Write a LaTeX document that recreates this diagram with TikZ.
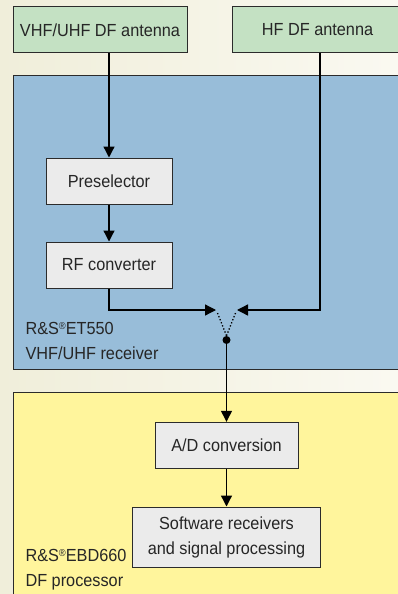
\documentclass[tikz,border=0pt]{standalone}
\usepackage{fontspec}
\setmainfont{Liberation Sans}[FakeStretch=0.93]
\usetikzlibrary{positioning,arrows.meta,shapes}

\definecolor{bgleft}{HTML}{F0EEDA}
\definecolor{bgright}{HTML}{FAF9F1}
\definecolor{antgreen}{HTML}{C4E1C3}
\definecolor{rxblue}{HTML}{98BDD9}
\definecolor{dfyellow}{HTML}{FFF59C}
\definecolor{unitgray}{HTML}{EBEBEB}
\definecolor{framegray}{HTML}{2B2B2B}

\newcommand{\rsreg}{\raisebox{5pt}{\fontsize{10}{10}\selectfont ®}}

\begin{document}
\begin{tikzpicture}[x=1pt, y=-1pt, >={Triangle[length=11pt,width=11pt]},
      every node/.append style={font=\fontsize{17.5}{25}\selectfont, text=black!85},
      antenna/.style={draw=framegray, line width=1pt, fill=antgreen, minimum height=46pt, inner sep=0pt},
      unit/.style={draw=framegray, line width=1pt, fill=unitgray, minimum height=46pt, minimum width=126pt, inner sep=0pt, align=center},
      area/.style={draw=framegray, line width=1pt},
      signal/.style={line width=1.3pt, ->}]
    \useasboundingbox (0,0) rectangle (398,594);
    \clip (0,0) rectangle (398,594);
    \shade[left color=bgleft, right color=bgright] (0,0) rectangle (398,594);

    % receiver and processor areas
    \draw[area, fill=rxblue] (13,75) rectangle (405,369);
    \draw[area, fill=dfyellow] (13,392) rectangle (405,600);

    % antennas
    \node[antenna, minimum width=174pt] (VHF) at (100,30) {VHF/UHF DF antenna};
    \node[antenna, minimum width=171pt] (HF) at (317.5,30) {HF DF antenna};

    % ET550
    \node[unit] (PRE) at (109,181) {Preselector};
    \node[unit, below=37pt of PRE] (RF) {RF converter};
    \coordinate (LIN) at (216,310);
    \coordinate (RIN) at (237,310);
    \node[circle, fill=black, inner sep=0pt, minimum size=8pt] (JOIN) at (226.5,340) {};
    \node[anchor=base west, align=left] at (22,359.5) {R\&S\rsreg ET550\\VHF/UHF receiver};

    % EBD660
    \node[unit, minimum width=143pt] (AD) at (226.5,445.3) {A/D conversion};
    \node[unit, minimum width=188pt, minimum height=60pt, below=37.7pt of AD] (SW)
      {Software receivers\\and signal processing};
    \node[anchor=base west, align=left] at (22,586) {R\&S\rsreg EBD660\\DF processor};

    % signal paths
    \draw[signal] (VHF.south -| PRE.north) -- (PRE.north);
    \draw[signal] (PRE) -- (RF);
    \draw[signal] (RF.south) |- (LIN);
    \draw[signal] (HF.south -| 320,0) |- (RIN);
    \draw[line width=1.3pt, dotted] (217.5,313) -- (JOIN.north);
    \draw[line width=1.3pt, dotted] (235.5,313) -- (JOIN.north);
    \draw[signal] (JOIN) -- (AD);
    \draw[signal] (AD) -- (SW);
  \end{tikzpicture}
\end{document}
